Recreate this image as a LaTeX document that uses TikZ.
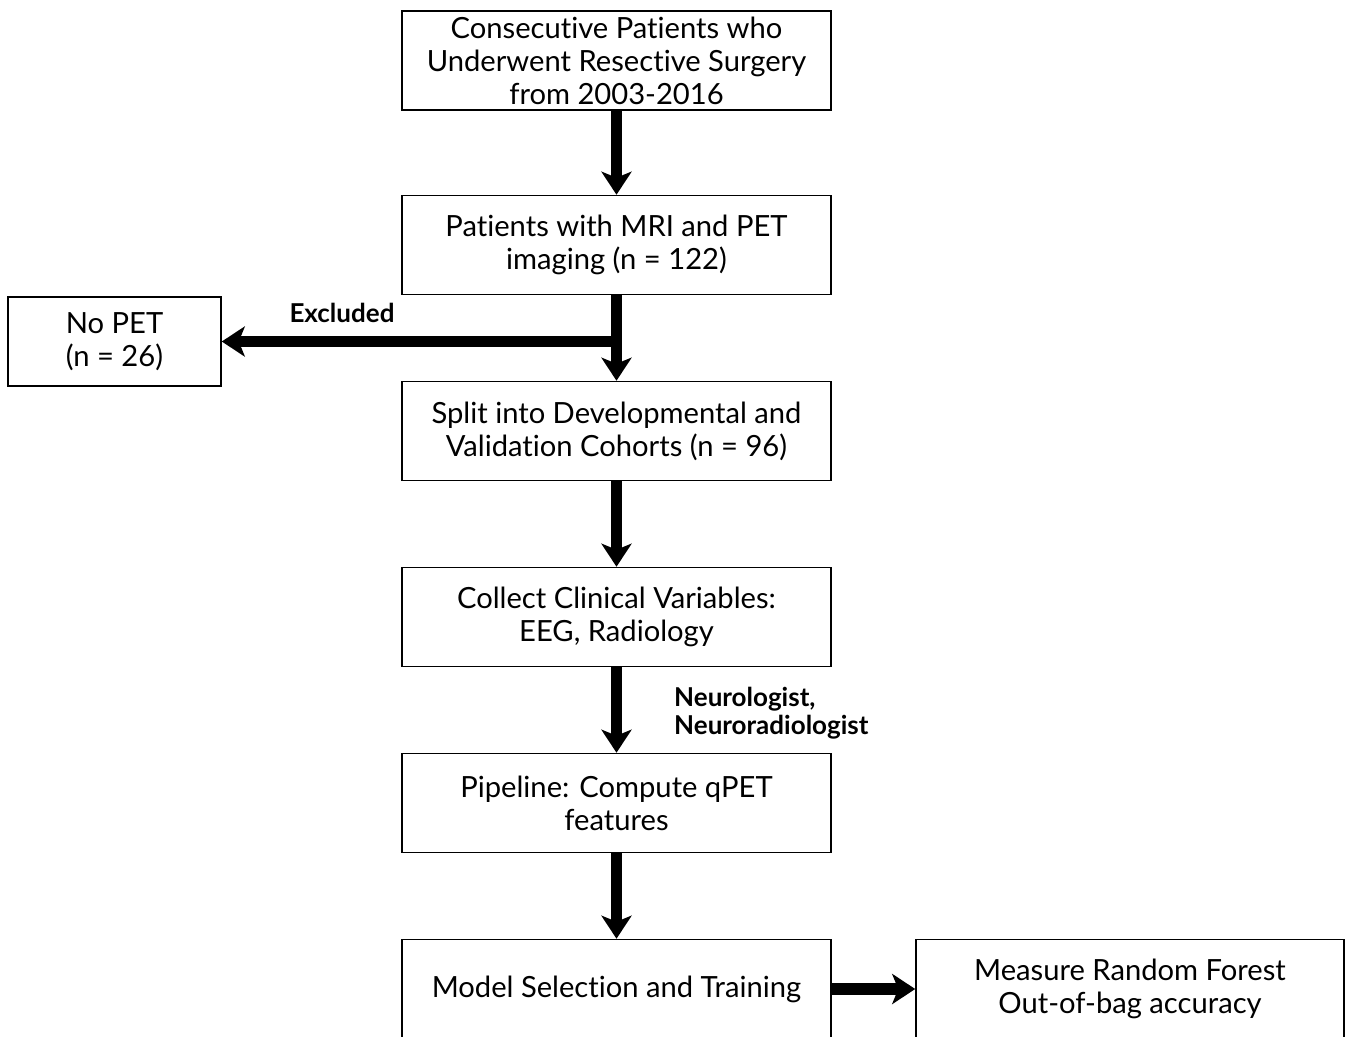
\documentclass[tikz,border=0pt]{standalone}
\usepackage{fontspec}
\setmainfont{Lato}[Ligatures=NoCommon]
\usetikzlibrary{arrows.meta}

\begin{document}
\begin{tikzpicture}[x=0.02cm, y=-0.02cm,
	box/.style={draw, line width=0.9pt, minimum width=8.58cm, minimum height=1.98cm,
		inner sep=0pt, align=center, font=\fontsize{16.6}{18.8}\selectfont},
	flow/.style={line width=6.8pt, -{Stealth[length=0.46cm, width=0.6cm, inset=0.12cm]}},
	note/.style={font=\bfseries\fontsize{14.8}{16}\selectfont, align=left}]
	\clip (0,0) rectangle (1350,1036);
	\newcommand {\cx} {616.5}
	\node[box] (consec) at (\cx,60.5) {Consecutive Patients who\\Underwent Resective Surgery\\from 2003-2016};
	\node[box] (imaging) at (\cx,245) {Patients with MRI and PET\\imaging (n = 122)};
	\node[box] (split) at (\cx,431) {Split into Developmental and\\Validation Cohorts (n = 96)};
	\node[box] (clinical) at (\cx,617) {Collect Clinical Variables:\\EEG, Radiology};
	\node[box] (pipeline) at (\cx,803) {Pipeline: Compute qPET\\features};
	\node[box] (model) at (\cx,989) {Model Selection and Training};
	\node[box, minimum width=8.56cm] (measure) at (1130,989) {Measure Random Forest\\Out-of-bag accuracy};
	\node[box, minimum width=4.26cm, minimum height=1.78cm] (nopet) at (114.5,341.5) {No PET\\(n = 26)};
	\coordinate (branch) at (\cx,341.5);
	% exclusion branch first, main flow on top
	\draw[flow] (branch) -- (nopet);
	\foreach \a/\b in {consec/imaging, imaging/split, split/clinical, clinical/pipeline, pipeline/model, model/measure}
	{
		\draw[flow] (\a) -- (\b);
	}
	\node[note] (excl) at (342,313) {Excluded};
	\node[note, anchor=west] (raters) at (668,713) {Neurologist,\\Neuroradiologist};
\end{tikzpicture}
\end{document}
